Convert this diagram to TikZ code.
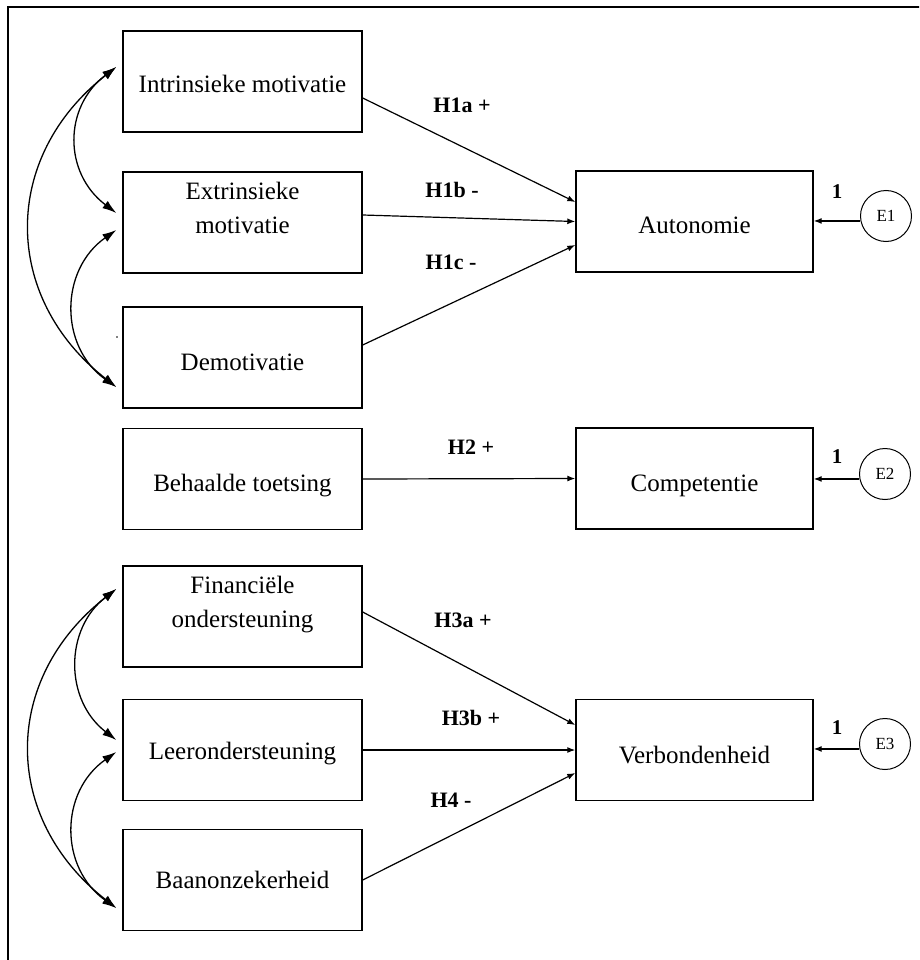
\documentclass[tikz,border=0pt]{standalone}
\usepackage{fontspec}
\setmainfont{Liberation Serif}
\usetikzlibrary{arrows.meta,calc}

\tikzset{
  box/.style={draw, line width=1.4pt, minimum width=239pt, minimum height=101pt, inner sep=0pt},
  rbox/.style={box, minimum width=237pt},
  txt/.style={font=\fontsize{25}{34}\selectfont, inner sep=0pt, anchor=base},
  hyp/.style={font=\fontsize{22}{26}\selectfont\bfseries, inner sep=0pt, anchor=base},
  one/.style={font=\fontsize{21}{26}\selectfont\bfseries, inner sep=0pt, anchor=base},
  err/.style={draw, circle, line width=1pt, minimum size=51pt, inner sep=0pt,
              font=\fontsize{17}{20}\selectfont},
  path/.style={line width=1.2pt, -{Latex[length=8pt,width=6pt]}},
  cov/.style={line width=1.3pt, {Latex[length=14pt,width=9pt]}-{Latex[length=14pt,width=9pt]}}
}

\begin{document}
\begin{tikzpicture}[x=1pt,y=-1pt]
\clip (0,0) rectangle (919,960);
\draw[line width=2pt] (8,7) rectangle (980,1000);

% exogenous variables
\node[box] (intr) at (242.5,81.5) {};
\node[box] (extr) at (242.5,222.5) {};
\node[box] (demo) at (242.5,357.5) {};
\node[box] (beha) at (242.5,479) {};
\node[box] (fin)  at (242.5,616.5) {};
\node[box] (leer) at (242.5,750) {};
\node[box] (baan) at (242.5,880) {};

\node[txt] (intrT) at (242.5,93) {Intrinsieke motivatie};
\node[txt] (extrT) at (242.5,199) {\begin{tabular}[t]{@{}c@{}}Extrinsieke\\motivatie\end{tabular}};
\node[txt] (demoT) at (242.5,370) {Demotivatie};
\node[txt] (behaT) at (242.5,491) {Behaalde toetsing};
\node[txt] (finT)  at (242.5,593) {\begin{tabular}[t]{@{}c@{}}Financiële\\ondersteuning\end{tabular}};
\node[txt] (leerT) at (242.5,759) {Leerondersteuning};
\node[txt] (baanT) at (242.5,888) {Baanonzekerheid};

% endogenous variables
\node[rbox] (auto) at (694.5,221.5) {};
\node[rbox] (comp) at (694.5,478.5) {};
\node[rbox] (verb) at (694.5,750) {};

\node[txt] (autoT) at (694.5,233) {Autonomie};
\node[txt] (compT) at (694.5,491) {Competentie};
\node[txt] (verbT) at (694.5,763) {Verbondenheid};

% error terms
\node[err] (e1) at (886,216) {E1};
\node[err] (e2) at (885,474) {E2};
\node[err] (e3) at (885,744) {E3};

\draw[path] (e1.191) -- (e1.191 -| auto.east);
\draw[path] (e2.191) -- (e2.191 -| comp.east);
\draw[path] (e3.191) -- (e3.191 -| verb.east);
\node[one] (w1) at (837,198) {1};
\node[one] (w2) at (837,463) {1};
\node[one] (w3) at (837,734) {1};

% hypothesised paths
\draw[path] ($(intr.east)+(0,16.5)$) -- ($(auto.west)+(0,-19.5)$);
\draw[path] ($(extr.east)+(0,-7.5)$) -- (auto.west);
\draw[path] ($(demo.east)+(0,-12.5)$) -- ($(auto.west)+(0,23.5)$);
\draw[path] (beha.east) -- (comp.west);
\draw[path] ($(fin.east)+(0,-4.5)$) -- ($(verb.west)+(0,-25)$);
\draw[path] (leer.east) -- (verb.west);
\draw[path] (baan.east) -- ($(verb.west)+(0,23)$);

\node[hyp] (h1a) at (462,113) {H1a +};
\node[hyp] (h1b) at (452,197) {H1b -};
\node[hyp] (h1c) at (451,269) {H1c -};
\node[hyp] (h2)  at (471,454) {H2 +};
\node[hyp] (h3a) at (463,627) {H3a +};
\node[hyp] (h3b) at (471,725) {H3b +};
\node[hyp] (h4)  at (451,807) {H4 -};

% correlations among the exogenous variables
\coordinate (cI)  at ($(intr.west)+(-6,-14.5)$);
\coordinate (cE1) at ($(extr.west)+(-6,-9.5)$);
\coordinate (cE2) at ($(extr.west)+(-6,7.5)$);
\coordinate (cD)  at ($(demo.west)+(-6,29.5)$);
\draw[cov] (cI) .. controls ($(cI)+(-115,90)$) and ($(cD)+(-115,-90)$) .. (cD);
\draw[cov] (cI) .. controls ($(cI)+(-53,40)$) and ($(cE1)+(-53,-40)$) .. (cE1);
\draw[cov] (cE2) .. controls ($(cE2)+(-57,40)$) and ($(cD)+(-57,-40)$) .. (cD);

\coordinate (cF)  at ($(fin.west)+(-6,-27.5)$);
\coordinate (cL1) at ($(leer.west)+(-6,-10)$);
\coordinate (cL2) at ($(leer.west)+(-6,2)$);
\coordinate (cB)  at ($(baan.west)+(-6,28)$);
\draw[cov] (cF) .. controls ($(cF)+(-115,90)$) and ($(cB)+(-115,-90)$) .. (cB);
\draw[cov] (cF) .. controls ($(cF)+(-52,40)$) and ($(cL1)+(-52,-40)$) .. (cL1);
\draw[cov] (cL2) .. controls ($(cL2)+(-57,40)$) and ($(cB)+(-57,-40)$) .. (cB);

\fill (117,337) circle (0.9);
\end{tikzpicture}
\end{document}
